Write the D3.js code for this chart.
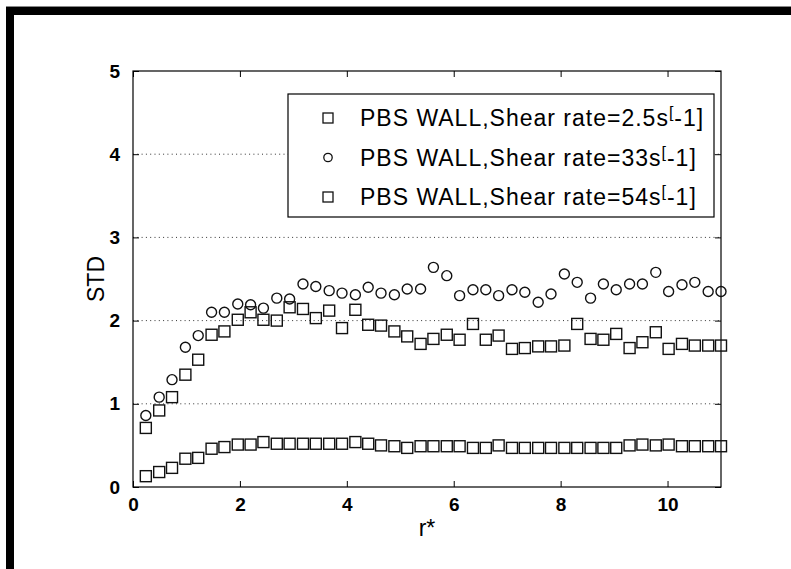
<!DOCTYPE html>
<html>
<head>
    <meta http-equiv="content-type" content="text/html; charset=utf-8" />
    <style>
        html, body { margin: 0; padding: 0; background: #fff; }
        svg { display: block; }
        text { font-family: "Liberation Sans", Arial, Helvetica, sans-serif; fill: #000; }
    </style>
</head>
<body>
    <div id="root"></div>

    <script src="https://d3js.org/d3.v7.min.js"></script>
    <script>
        // r* positions (same for every series)
        const rStar = [0.24, 0.49, 0.73, 0.98, 1.22, 1.47, 1.71, 1.96, 2.20, 2.44,
                       2.69, 2.93, 3.18, 3.42, 3.67, 3.91, 4.16, 4.40, 4.64, 4.89,
                       5.13, 5.38, 5.62, 5.87, 6.11, 6.36, 6.60, 6.84, 7.09, 7.33,
                       7.58, 7.82, 8.07, 8.31, 8.56, 8.80, 9.04, 9.29, 9.53, 9.78,
                       10.02, 10.27, 10.51, 10.76, 11.00]

        // STD, shear rate 2.5 s^-1
        const std25 = [0.13, 0.18, 0.23, 0.34, 0.35, 0.46, 0.48, 0.51, 0.51, 0.54,
                       0.52, 0.52, 0.52, 0.52, 0.52, 0.52, 0.54, 0.52, 0.50, 0.49,
                       0.47, 0.49, 0.49, 0.49, 0.49, 0.47, 0.47, 0.50, 0.47, 0.47,
                       0.47, 0.47, 0.47, 0.47, 0.47, 0.47, 0.47, 0.50, 0.51, 0.50,
                       0.51, 0.49, 0.49, 0.49, 0.49]

        // STD, shear rate 33 s^-1
        const std33 = [0.86, 1.08, 1.29, 1.68, 1.82, 2.10, 2.10, 2.20, 2.19, 2.15,
                       2.27, 2.26, 2.44, 2.41, 2.36, 2.33, 2.31, 2.40, 2.33, 2.31,
                       2.38, 2.38, 2.64, 2.54, 2.30, 2.37, 2.37, 2.30, 2.37, 2.34,
                       2.22, 2.32, 2.56, 2.46, 2.27, 2.44, 2.37, 2.44, 2.44, 2.58,
                       2.35, 2.43, 2.46, 2.35, 2.35]

        // STD, shear rate 54 s^-1
        const std54 = [0.71, 0.92, 1.08, 1.35, 1.53, 1.83, 1.87, 2.01, 2.10, 2.01,
                       2.00, 2.16, 2.14, 2.03, 2.12, 1.91, 2.13, 1.95, 1.94, 1.87,
                       1.81, 1.72, 1.78, 1.83, 1.77, 1.96, 1.77, 1.82, 1.66, 1.67,
                       1.69, 1.69, 1.70, 1.96, 1.78, 1.77, 1.84, 1.67, 1.74, 1.86,
                       1.66, 1.72, 1.70, 1.70, 1.70]

        const xTicks = [0, 2, 4, 6, 8, 10]
        const yTicks = [0, 1, 2, 3, 4, 5]
        const gridTicks = [1, 2, 3, 4]
        const legendRates = ['2.5', '33', '54']
        const markers = ['square', 'circle', 'square']

        const W = 791, H = 569
        const pL = 133, pR = 721, pT = 71, pB = 487

        const svg = d3.select('#root').append('svg')
            .attr('width', W)
            .attr('height', H)

        // figure frame (top and left bars of the window)
        svg.append('line')
            .attr('x1', 6).attr('x2', W).attr('y1', 6.5).attr('y2', 6.5)
            .attr('stroke', '#888')
        svg.append('rect')
            .attr('x', 6).attr('y', 7).attr('width', W - 6).attr('height', 8)
            .attr('fill', '#000')
        svg.append('rect')
            .attr('x', 6).attr('y', 7).attr('width', 8).attr('height', H - 7)
            .attr('fill', '#000')

        const x = d3.scaleLinear().domain([0, 11]).range([pL, pR])
        const y = d3.scaleLinear().domain([0, 5]).range([pB, pT])

        // dotted grid
        svg.append('g').selectAll('line')
            .data(gridTicks)
            .join('line')
            .attr('x1', pL).attr('x2', pR)
            .attr('y1', d => y(d)).attr('y2', d => y(d))
            .attr('stroke', '#333')
            .attr('stroke-width', 1)
            .attr('stroke-dasharray', '1,3.3')

        // axes with inward ticks, box on
        const tickLen = 6
        const axisStyle = g => {
            g.select('.domain').remove()
            g.selectAll('line').attr('stroke', '#000').attr('stroke-width', 1)
            g.selectAll('text')
                .style('font-size', '19px')
                .style('font-weight', 'bold')
        }

        svg.append('g')
            .attr('transform', `translate(0,${pB})`)
            .call(d3.axisBottom(x).tickValues(xTicks).tickSize(-tickLen).tickPadding(11).tickFormat(d3.format('d')))
            .call(axisStyle)
            .selectAll('text').attr('dy', '0.71em')
        svg.append('g')
            .attr('transform', `translate(0,${pT})`)
            .call(d3.axisTop(x).tickValues(xTicks).tickSize(-tickLen).tickFormat(''))
            .call(axisStyle)
        svg.append('g')
            .attr('transform', `translate(${pL},0)`)
            .call(d3.axisLeft(y).tickValues(yTicks).tickSize(-tickLen).tickPadding(13).tickFormat(d3.format('d')))
            .call(axisStyle)
        svg.append('g')
            .attr('transform', `translate(${pR},0)`)
            .call(d3.axisRight(y).tickValues(yTicks).tickSize(-tickLen).tickFormat(''))
            .call(axisStyle)

        svg.append('rect')
            .attr('x', pL).attr('y', pT)
            .attr('width', pR - pL).attr('height', pB - pT)
            .attr('fill', 'none')
            .attr('stroke', '#000')
            .attr('stroke-width', 1.2)

        // data markers
        const drawSeries = (vals, shape, size) => {
            const g = svg.append('g')
                .attr('fill', 'none')
                .attr('stroke', '#111')
                .attr('stroke-width', 1.4)
            const pts = rStar.map((r, i) => [x(r), y(vals[i])])
            if (shape === 'square') {
                g.selectAll('rect').data(pts).join('rect')
                    .attr('x', d => d[0] - size / 2)
                    .attr('y', d => d[1] - size / 2)
                    .attr('width', size).attr('height', size)
            } else {
                g.selectAll('circle').data(pts).join('circle')
                    .attr('cx', d => d[0]).attr('cy', d => d[1])
                    .attr('r', size / 2)
            }
        }
        drawSeries(std25, 'square', 11)
        drawSeries(std33, 'circle', 10)
        drawSeries(std54, 'square', 11)

        // legend
        const lg = svg.append('g')
        lg.append('rect')
            .attr('x', 288).attr('y', 94)
            .attr('width', 426).attr('height', 123)
            .attr('fill', '#fff')
            .attr('stroke', '#000')
            .attr('stroke-width', 1.2)
        legendRates.forEach((rate, i) => {
            const cy = 118 + i * 39.5
            if (markers[i] === 'square') {
                lg.append('rect')
                    .attr('x', 323).attr('y', cy - 5)
                    .attr('width', 10).attr('height', 10)
                    .attr('fill', 'none').attr('stroke', '#111').attr('stroke-width', 1.3)
            } else {
                lg.append('circle')
                    .attr('cx', 328).attr('cy', cy)
                    .attr('r', 4.2)
                    .attr('fill', 'none').attr('stroke', '#111').attr('stroke-width', 1.3)
            }
            const t = lg.append('text')
                .attr('x', 360).attr('y', cy + 8)
                .style('font-size', '23px')
                .style('letter-spacing', '1px')
            t.append('tspan').text(`PBS WALL,Shear rate=${rate}s`)
            t.append('tspan').attr('dy', -8).style('font-size', '16px').text('[')
            t.append('tspan').attr('dy', 8).text('-1]')
        })

        // axis labels
        svg.append('text')
            .attr('x', (pL + pR) / 2)
            .attr('y', 536)
            .attr('text-anchor', 'middle')
            .style('font-size', '23px')
            .text('r*')
        svg.append('text')
            .attr('transform', `translate(104,${(pT + pB) / 2}) rotate(-90)`)
            .attr('text-anchor', 'middle')
            .style('font-size', '23px')
            .text('STD')
    </script>
</body>
</html>
